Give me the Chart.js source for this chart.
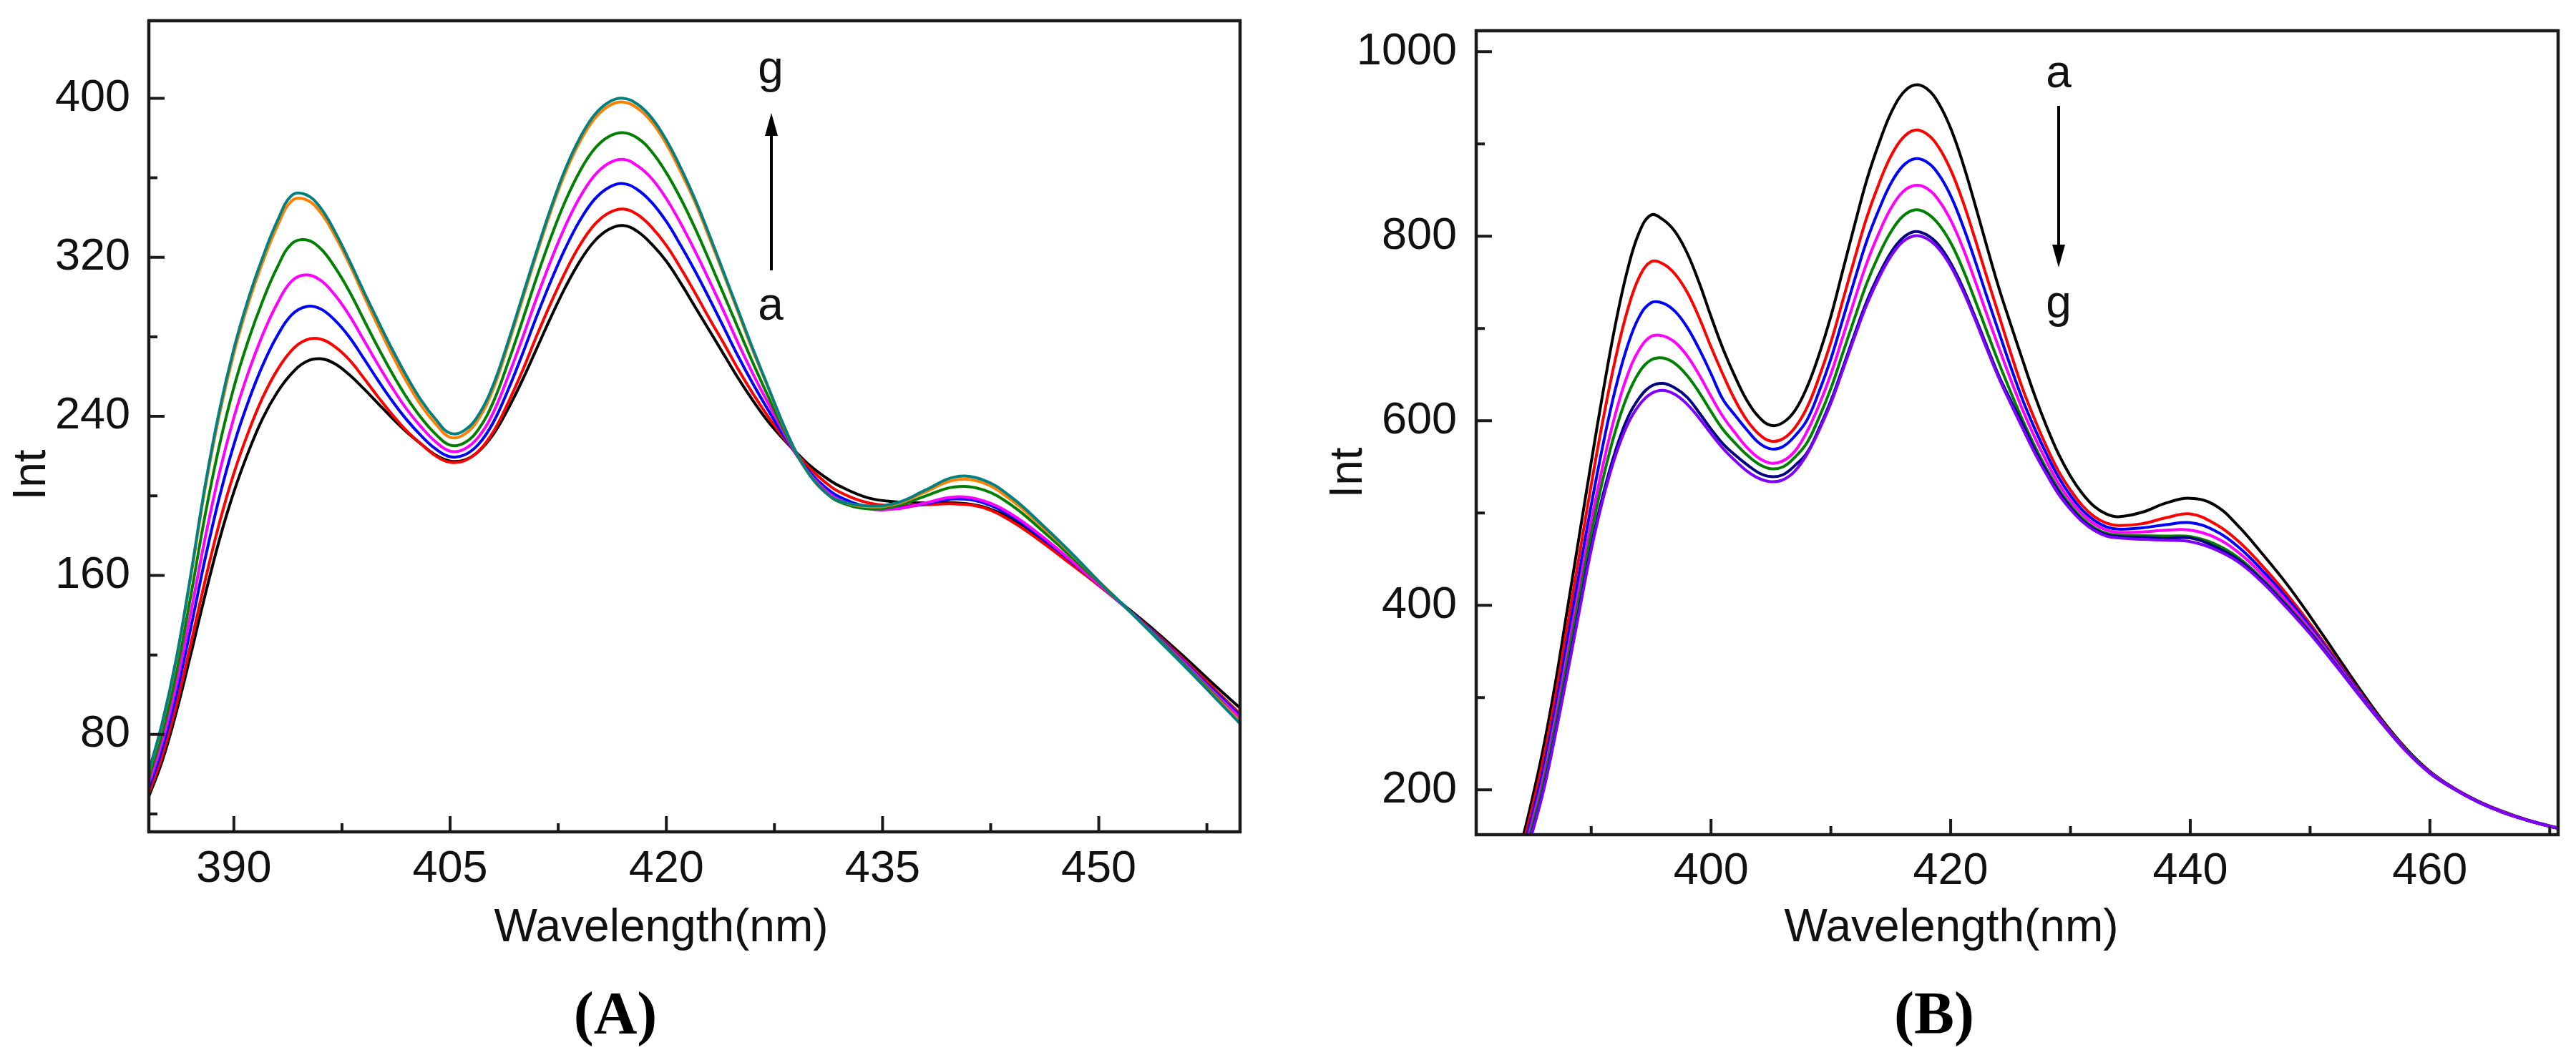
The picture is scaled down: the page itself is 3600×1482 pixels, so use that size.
<!DOCTYPE html>
<html>
<head>
<meta charset="utf-8">
<script src="https://cdn.jsdelivr.net/npm/chart.js@4.4.1/dist/chart.umd.min.js"></script>
<style>
  html, body { margin: 0; padding: 0; background: #ffffff; }
  body { width: 3600px; height: 1482px; position: relative; overflow: hidden; }
  canvas { position: absolute; top: 0; }
  #chartA { left: 0; }
  #chartB { left: 1800px; }
</style>
</head>
<body>
<canvas id="chartA" width="1800" height="1482"></canvas>
<canvas id="chartB" width="1800" height="1482"></canvas>
<script>
// ---------------- Panel A data ----------------
const WAVELENGTH_A = [384,385,386,387,388,389,390,391,392,393,394,395,396,397,398,399,400,401,402,403,404,405,406,407,408,409,410,411,412,413,414,415,416,417,418,419,420,421,422,423,424,425,426,427,428,429,430,431,432,434,436,438,440,442,444,446,448,450,452,454,456,458,460];
const A_a = [47,66,91,120,150,178,202,222,239,252,261.5,267.5,269,266.5,261,254,246.5,239,232,226,220.5,217.5,218,222.5,231,243.5,258,274,290,305,318,328,334,336,333,326.5,318,307,295,283,271,259,248,238,229.5,222,215,209.5,205,199,197,196.5,196.5,194.5,188,178,166.5,155,143.5,131.5,118.5,105,92];
const A_b = [48.6,68.5,94.5,125.2,157.2,186.5,211.4,232,249.5,263.2,273.1,278.4,278.9,275.1,268.5,259.4,249.8,240.7,232.6,226,220.1,216.9,217.7,222.7,232.3,246.5,262.6,280.4,297.2,312.7,326.1,336.3,342.3,344.3,341.5,335,326,314.5,302,289,276.5,263.5,251.5,240.5,230.5,221.5,213.5,207,202,196.5,195,195.5,196,194,187,177,166,155,143,130.5,117,103,89];
const A_c = [51,72.3,99.9,133.2,168.2,199.5,225.8,247.4,265.7,280.4,291,295.2,294.1,288.4,280,269.2,258.1,247.6,238.2,230.2,223.6,219.7,220.6,226.2,237,252.9,271,290.2,308.2,324.6,338.5,349,355.1,357.1,354,347.5,338,326,313,299,284.5,270,256.5,244,232,221,211.5,204.5,199.5,194.5,194,196,198.5,196.5,189.5,179,167.5,155.5,143,130,116,102,88];
const A_d = [53.2,75.9,105,140.8,178.6,211.8,239.4,262,281.1,296.7,308,311.2,308.5,301.1,290.9,278.5,266,254.2,243.5,234.6,227.2,222.5,223.6,229.9,242,259.6,279,299.5,318.6,335.9,350.2,361,367.3,369.3,366,359.5,349.5,337,323,308,292.5,276.5,261.5,247.5,234,221,210.5,203,198,193.5,193.5,196.5,199.5,197.5,190.5,180,168,155.5,143,129.5,115.5,101,87];
const A_e = [55.8,79.9,110.7,149.2,190.2,225.5,254.6,278.2,298.1,314.8,326.8,328.8,324.5,315.1,303,288.8,274.7,261.4,249.4,239.2,231,225.5,226.7,233.8,247.3,266.6,287.8,309.8,330.2,348.4,363.3,374.4,380.7,382.7,380,373,362.5,349.5,334.5,318,301,284,267,251,235.5,221.5,210,202,197,193.5,195,200,204.5,203,195,183,170,156.5,143,129,114.5,100,85];
const A_f = [58.6,84.4,117.2,158.8,203.4,241,271.8,296.7,317.6,335.4,348.3,349,342.7,331,316.8,301,285.5,270.7,257.2,245.4,236.2,229.5,231,239,254,275.3,298.3,321.5,343.4,362.7,378.1,389.6,396.1,398.1,395,388,377,363,347.5,329.5,311,292,273,255.5,237.5,222,210,202,197.5,194.5,196,202,208,206.5,197.5,185,171.5,157,143,128.5,114,99.5,85];
const A_g = [59,85,118,160,205,243,274,299,320,338,351,351.5,345,333,318.5,303,288,273.5,260,248,238.5,231.5,233,241,256,277,300,323,345,364.5,380,391.5,398,400,397,390,379,365,349,331,312,293,274,256,238,222,210,202,197.5,195,196.5,203,209.5,208,199,186,172,157,143,128.5,114,99,84];
const X_TICKS_A = [390, 405, 420, 435, 450];
const X_MINOR_A = [397.5, 412.5, 427.5, 442.5, 457.5];
const Y_TICKS_A = [80, 160, 240, 320, 400];
const Y_MINOR_A = [40, 120, 200, 280, 360];
const COLORS_A = ['#000000', '#ff0000', '#0000ff', '#ff00ff', '#008000', '#ff8000', '#008080'];

// ---------------- Panel B data ----------------
const WAVELENGTH_B = [383,384,385,386,387,388,389,390,391,392,393,394,395,396,397,398,399,400,401,402,403,404,405,406,407,408,409,410,411,412,413,414,415,416,417,418,419,420,421,422,423,424,425,426,427,428,429,430,431,432,433,434,436,438,440,442,444,446,448,450,452,454,456,458,460,462,464,466,468,470,471];
const B_a = [100,135,186,245,315,395,475,555,632,703,762,804,823,818,805,782,750,713,678,648,622,604,595,598,611,636,671,713,763,813,861,900,933,955,964,960,944,917,880,836,790,745,705,666,628,594,564,540,521,507,499,496,501,511,516,509,486,456,424,388,350,312,276,245,220,202,188,177,168,161,158];
const B_b = [90,127,176.6,232.8,300.4,376.8,453.5,530.5,602,666,718.5,755.5,772.5,770,759,739.5,712,680,650,622.5,600.5,585.5,578,580.5,592.5,614,646.5,685,730.5,776.5,820.5,856.5,886.5,906.5,915,911,896.5,872,838.5,798.5,756.5,715.5,674,635,602,572,545.5,525,508,496,489,486.5,488.5,495,499,488.8,469.6,443,413.1,380,344.5,308.6,274.3,244,219.2,201.6,187.6,176.6,167.8,160.8,157.8];
const B_c = [80.5,120.5,168.4,222,287.6,360.7,435,508.5,575,633.5,680,712.5,728,727.5,718.5,701.5,678,651,623,606,590,576,569.5,572,583.5,600.5,631,667,710,753.5,795,828.5,857,876,884,880.5,867,844,812,775,735.5,697,659,623,592,564,539,519,503,492,485,482.5,484,487.5,489.5,481.2,463.4,438,408.9,377,342.5,307.4,273.7,243.5,219,201.5,187.5,176.5,167.7,160.7,157.7];
const B_d = [73,114.5,161.5,213,276.9,347.4,419,490.5,553,606.5,648.5,677,691.5,692,685,670.5,650,626.5,604.5,587,571,559.5,554,556.5,567,588,616.5,650.5,691,732,771,803,830,848,855,852,839,817.5,788,753,716,680,645,612,582.5,556,532,513.5,498.5,488,481.5,479,479.5,481.5,481.5,474,457.5,433.4,405,374.1,340.5,306.2,273.1,243.5,218.9,201.4,187.4,176.5,167.7,160.7,157.7];
const B_e = [67.5,110.5,156.8,206.9,269.6,338.3,408.5,478,538,588,626.5,652.5,666,668,662,649,631,610,590.5,576,563,553,548,550,560.5,576,603,635,673.5,712,749,779.5,804.5,821.5,828.5,825,813,793,765,732,697.5,663.5,631.5,601,573,548,526,508.5,494,484,478,476,475.5,475,474.5,466.8,451.7,428.7,401.1,371.3,338.6,305,272.5,243,218.4,201.1,187.1,176.2,167.6,160.6,157.6];
const B_f = [61.5,106,151.4,199.9,261.2,327.8,396.5,464,520.5,566.5,602,624.5,637.5,640.5,635.5,625.5,609,591,575,563,552.5,543.5,539.5,541.5,551.5,565,591,621.5,657.5,694.5,729.5,758,782,798,805,801.5,790.5,771,745,714,681.5,649.5,622.5,596.5,569,545,523.5,506,492,482.5,476.5,474.5,473.5,472.5,473,463.9,449.3,426.9,399.6,370.1,337.8,304.5,272.2,242.5,218.2,201,187,176,167.5,160.5,157.5];
const B_g = [60,105,150,198,259,325,393,460,516,561,595,617,629.5,633,628.5,618,603,586,570,557,545.5,537.5,534,536,545.5,563.5,589,619,655,691.5,726,754.5,778,794,800.5,797.5,786.5,767.5,741.5,711,678.5,647,619,592,565.5,542,520.5,504,490.5,481,475,473,471.5,470.5,469,461,447,425,398,369,337,304,272,242,218,201,187,176,167.5,160.5,157.5];
const X_TICKS_B = [400, 420, 440, 460];
const X_MINOR_B = [390, 410, 430, 450, 470];
const Y_TICKS_B = [200, 400, 600, 800, 1000];
const Y_MINOR_B = [300, 500, 700, 900];
const COLORS_B = ['#000000', '#ff0000', '#0000ff', '#ff00ff', '#008000', '#000080', '#8000ff'];

const SERIES_LABELS = ['a', 'b', 'c', 'd', 'e', 'f', 'g'];

Chart.defaults.font.family = "'Liberation Sans', Arial, sans-serif";

const framePlugin = {
  id: 'frame',
  afterDraw(chart, args, o) {
    const ctx = chart.ctx;
    const ca = chart.chartArea;
    const xs = chart.scales.x, ys = chart.scales.y;
    ctx.save();
    ctx.strokeStyle = '#1a1a1a';
    ctx.lineWidth = 4.5;
    ctx.strokeRect(ca.left, ca.top, ca.right - ca.left, ca.bottom - ca.top);
    ctx.lineWidth = 4;
    ctx.beginPath();
    o.xMajor.forEach(v => { const p = xs.getPixelForValue(v); ctx.moveTo(p, ca.bottom); ctx.lineTo(p, ca.bottom - 22); });
    o.xMinor.forEach(v => { const p = xs.getPixelForValue(v); ctx.moveTo(p, ca.bottom); ctx.lineTo(p, ca.bottom - 12); });
    o.yMajor.forEach(v => { const p = ys.getPixelForValue(v); ctx.moveTo(ca.left, p); ctx.lineTo(ca.left + 22, p); });
    o.yMinor.forEach(v => { const p = ys.getPixelForValue(v); ctx.moveTo(ca.left, p); ctx.lineTo(ca.left + 12, p); });
    ctx.stroke();

    ctx.fillStyle = '#111111';
    ctx.font = "64px 'Liberation Sans', Arial, sans-serif";
    ctx.textAlign = 'center';
    ctx.textBaseline = 'alphabetic';
    ctx.fillText(o.xTitle.text, o.xTitle.x, o.xTitle.y);
    ctx.save();
    ctx.translate(o.yTitle.x, o.yTitle.y);
    ctx.rotate(-Math.PI / 2);
    ctx.fillText(o.yTitle.text, 0, 0);
    ctx.restore();
    o.letters.forEach(l => ctx.fillText(l.text, l.x, l.y));
    const ar = o.arrow;
    const dir = ar.y2 < ar.y1 ? -1 : 1;
    ctx.strokeStyle = '#000000';
    ctx.lineWidth = 4;
    ctx.beginPath();
    ctx.moveTo(ar.x, ar.y1);
    ctx.lineTo(ar.x, ar.y2 - dir * 24);
    ctx.stroke();
    ctx.fillStyle = '#000000';
    ctx.beginPath();
    ctx.moveTo(ar.x, ar.y2);
    ctx.lineTo(ar.x - 9, ar.y2 - dir * 32);
    ctx.lineTo(ar.x + 9, ar.y2 - dir * 32);
    ctx.closePath();
    ctx.fill();
    ctx.font = "bold 84px 'Liberation Serif', 'Times New Roman', serif";
    ctx.fillText(o.panel.text, o.panel.x, o.panel.y);
    ctx.restore();
  }
};

function makeChart(id, cfg) {
  const datasets = cfg.series.map((vals, i) => ({
    label: SERIES_LABELS[i],
    data: cfg.x.map((x, j) => ({ x: x, y: vals[j] })),
    borderColor: cfg.colors[i],
    backgroundColor: cfg.colors[i],
    borderWidth: 4,
    pointRadius: 0,
    tension: 0.4,
    fill: false,
    order: cfg.series.length - i
  }));
  return new Chart(document.getElementById(id), {
    type: 'line',
    data: { datasets: datasets },
    options: {
      responsive: false,
      animation: false,
      devicePixelRatio: 1,
      layout: { padding: cfg.padding },
      plugins: {
        legend: { display: false },
        tooltip: { enabled: false },
        frame: cfg.frame
      },
      scales: {
        x: {
          type: 'linear',
          min: cfg.xMin, max: cfg.xMax,
          afterBuildTicks: s => { s.ticks = cfg.frame.xMajor.map(v => ({ value: v })); },
          afterFit: s => { s.height = cfg.xAxisHeight; s.paddingLeft = 0; s.paddingRight = 0; s.paddingTop = 0; s.paddingBottom = 0; },
          grid: { display: false, drawTicks: false },
          border: { display: false },
          ticks: { padding: cfg.xPad, color: '#111111', autoSkip: false, maxRotation: 0, minRotation: 0,
                   font: { size: 63, lineHeight: 1.2 }, callback: v => String(v) }
        },
        y: {
          type: 'linear',
          min: cfg.yMin, max: cfg.yMax,
          afterBuildTicks: s => { s.ticks = cfg.frame.yMajor.map(v => ({ value: v })); },
          afterFit: s => { s.width = cfg.yAxisWidth; s.paddingTop = 0; s.paddingBottom = 0; s.paddingLeft = 0; s.paddingRight = 0; },
          grid: { display: false, drawTicks: false },
          border: { display: false },
          ticks: { padding: cfg.yPad, color: '#111111', autoSkip: false,
                   font: { size: 63, lineHeight: 1.2 }, callback: v => String(v) }
        }
      }
    },
    plugins: [framePlugin]
  });
}

makeChart('chartA', {
  x: WAVELENGTH_A,
  series: [A_a, A_b, A_c, A_d, A_e, A_f, A_g],
  colors: COLORS_A,
  xMin: 384.1, xMax: 459.8, yMin: 31, yMax: 439,
  padding: { left: 0, top: 29, right: 67, bottom: 0 },
  xAxisHeight: 319, yAxisWidth: 208, xPad: 15, yPad: 26,
  frame: {
    xMajor: X_TICKS_A, xMinor: X_MINOR_A, yMajor: Y_TICKS_A, yMinor: Y_MINOR_A,
    xTitle: { text: 'Wavelength(nm)', x: 924, y: 1316 },
    yTitle: { text: 'Int', x: 63, y: 664 },
    letters: [ { text: 'g', x: 1077, y: 116 }, { text: 'a', x: 1077, y: 447 } ],
    arrow: { x: 1078, y1: 378, y2: 158 },
    panel: { text: '(A)', x: 860, y: 1445 }
  }
});

makeChart('chartB', {
  x: WAVELENGTH_B,
  series: [B_a, B_b, B_c, B_d, B_e, B_f, B_g],
  colors: COLORS_B,
  xMin: 380.4, xMax: 470.7, yMin: 151.4, yMax: 1022.7,
  padding: { left: 0, top: 43, right: 25, bottom: 0 },
  xAxisHeight: 315, yAxisWidth: 263, xPad: 14, yPad: 27,
  frame: {
    xMajor: X_TICKS_B, xMinor: X_MINOR_B, yMajor: Y_TICKS_B, yMinor: Y_MINOR_B,
    xTitle: { text: 'Wavelength(nm)', x: 927, y: 1316 },
    yTitle: { text: 'Int', x: 103, y: 661 },
    letters: [ { text: 'a', x: 1077, y: 122 }, { text: 'g', x: 1077, y: 444 } ],
    arrow: { x: 1077, y1: 148, y2: 374 },
    panel: { text: '(B)', x: 903, y: 1445 }
  }
});
</script>
</body>
</html>
